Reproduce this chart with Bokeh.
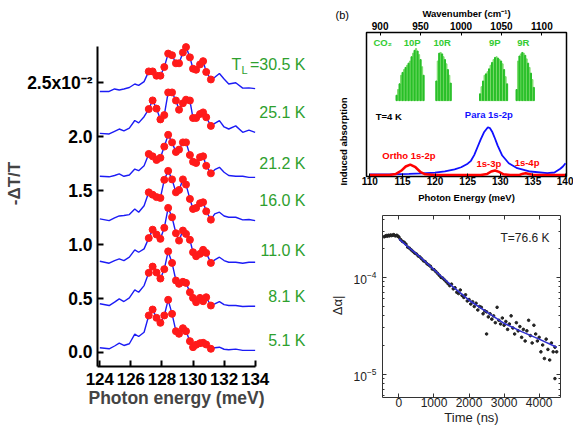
import math
from bokeh.plotting import figure
from bokeh.layouts import row, column
from bokeh.models import (Range1d, LinearAxis, LogAxis, Label, FixedTicker, Title, AllLabels,
                          CustomJSTickFormatter)
from bokeh.embed import file_html
from bokeh.resources import INLINE

FONT = "Liberation Sans"

# ---------------- panel (a): pump-probe spectra ----------------
a_xticks = [124, 126, 128, 130, 132, 134]
a_yticks = [0.0, 0.5, 1.0, 1.5, 2.0, 2.5]
a_ylabels = ["0.0", "0.5", "1.0", "1.5", "2.0", "2.5x10\u207b\u00b2"]
left_x = [124.0, 124.6, 124.95, 125.25, 125.55, 125.9, 126.25, 126.5, 126.85]
dot_x = [127.15, 127.4, 127.65, 127.9, 128.15, 128.4, 128.65, 128.9, 129.1,
         129.35, 129.55, 129.8, 130.0, 130.2, 130.45, 130.65, 130.85, 131.15]
right_x = [131.4, 131.7, 132.0, 132.3, 132.75, 133.2, 133.6, 134.0]

L_30_5 = [2.419, 2.419, 2.442, 2.433, 2.442, 2.456, 2.488, 2.475, 2.51]
D_30_5 = [2.605, 2.605, 2.565, 2.565, 2.645, 2.77, 2.755, 2.68, 2.68, 2.78, 2.83, 2.735, 2.63, 2.62, 2.67, 2.70, 2.60, 2.53]
R_30_5 = [2.55, 2.586, 2.534, 2.488, 2.50, 2.45, 2.452, 2.445]

L_25_1 = [2.031, 2.025, 2.05, 2.071, 2.053, 2.08, 2.15, 2.128, 2.185]
D_25_1 = [2.256, 2.336, 2.26, 2.16, 2.20, 2.41, 2.41, 2.335, 2.25, 2.31, 2.343, 2.335, 2.173, 2.173, 2.21, 2.225, 2.18, 2.10]
R_25_1 = [2.123, 2.148, 2.09, 2.071, 2.10, 2.04, 2.06, 2.04]

L_21_2 = [1.633, 1.628, 1.64, 1.655, 1.633, 1.645, 1.70, 1.685, 1.73]
D_21_2 = [1.84, 1.818, 1.784, 1.804, 1.908, 2.017, 1.947, 1.858, 1.88, 1.947, 1.947, 1.83, 1.768, 1.756, 1.81, 1.818, 1.73, 1.66]
R_21_2 = [1.694, 1.716, 1.67, 1.64, 1.633, 1.633, 1.623, 1.623]

L_16_0 = [1.238, 1.222, 1.247, 1.265, 1.27, 1.278, 1.33, 1.30, 1.36]
D_16_0 = [1.484, 1.462, 1.44, 1.432, 1.60, 1.683, 1.604, 1.484, 1.506, 1.604, 1.556, 1.423, 1.33, 1.34, 1.383, 1.392, 1.308, 1.231]
R_16_0 = [1.284, 1.30, 1.265, 1.253, 1.253, 1.229, 1.232, 1.222]

L_11_0 = [0.845, 0.827, 0.852, 0.867, 0.852, 0.883, 0.951, 0.929, 0.96]
D_11_0 = [1.06, 1.138, 1.093, 1.053, 1.155, 1.34, 1.253, 1.105, 1.037, 1.13, 1.099, 1.044, 0.929, 0.892, 0.914, 0.951, 0.923, 0.83]
R_11_0 = [0.858, 0.883, 0.852, 0.836, 0.836, 0.827, 0.836, 0.836]

L_8_1 = [0.451, 0.435, 0.466, 0.497, 0.472, 0.506, 0.58, 0.558, 0.62]
D_8_1 = [0.738, 0.796, 0.741, 0.685, 0.772, 0.937, 0.83, 0.667, 0.636, 0.655, 0.645, 0.558, 0.506, 0.466, 0.506, 0.475, 0.512, 0.435]
R_8_1 = [0.45, 0.472, 0.444, 0.435, 0.435, 0.426, 0.429, 0.429]

L_5_1 = [0.044, 0.034, 0.06, 0.086, 0.065, 0.081, 0.17, 0.148, 0.188]
D_5_1 = [0.343, 0.398, 0.321, 0.275, 0.343, 0.488, 0.358, 0.197, 0.173, 0.225, 0.197, 0.105, 0.049, 0.071, 0.086, 0.090, 0.074, 0.034]
R_5_1 = [0.044, 0.049, 0.03, 0.025, 0.031, 0.019, 0.019, 0.019]

temp_labels = ["=30.5 K", "25.1 K", "21.2 K", "16.0 K", "11.0 K", "8.1 K", "5.1 K"]
temp_label_y = [302, 254, 203, 166, 116, 70, 26]   # px above frame bottom

traces = [(L_30_5, D_30_5, R_30_5), (L_25_1, D_25_1, R_25_1), (L_21_2, D_21_2, R_21_2),
          (L_16_0, D_16_0, R_16_0), (L_11_0, D_11_0, R_11_0), (L_8_1, D_8_1, R_8_1),
          (L_5_1, D_5_1, R_5_1)]

# ---------------- panel (b): induced absorption ----------------
MEV_PER_CM = 0.12398
b_xticks = [110, 115, 120, 125, 130, 135, 140]
wn_ticks = [900, 950, 1000, 1050, 1100]
b_blue_x = [110, 113, 116, 118, 120, 121.5, 123, 124, 125, 125.5, 126, 126.5, 127, 127.5, 128.1, 128.4,
            128.8, 129.2, 129.6, 130.3, 131.3, 132.6, 134.6, 137.2, 138.3, 139.2, 139.6, 140]
b_blue_y = [0.004, 0.005, 0.008, 0.012, 0.017, 0.026, 0.04, 0.055, 0.08, 0.10, 0.14, 0.195, 0.25, 0.30, 0.335, 0.33,
            0.30, 0.255, 0.207, 0.137, 0.083, 0.048, 0.025, 0.013, 0.018, 0.044, 0.06, 0.083]
b_red_x = [110, 113, 114, 114.8, 115.5, 116.2, 117, 117.8, 118.5, 120, 127, 128, 128.6, 129.2, 129.8,
           130.5, 131.5, 133, 133.5, 133.9, 134.4, 135, 140]
b_red_y = [0, 0.001, 0.008, 0.03, 0.06, 0.074, 0.055, 0.02, 0.005, 0.001, 0.001, 0.008, 0.025, 0.032, 0.022,
           0.005, 0.001, 0.002, 0.01, 0.013, 0.008, 0.002, 0]
co2_base = 0.522
co2_10P_x = [114.1, 114.33, 114.56, 114.79, 115.02, 115.25, 115.48, 115.71, 115.94, 116.17, 116.4, 116.63,
             116.86, 117.09, 117.32, 117.55, 117.78, 118.01, 118.24]
co2_10P_h = [0.56, 0.60, 0.64, 0.70, 0.72, 0.74, 0.755, 0.77, 0.785, 0.80, 0.83, 0.855, 0.875, 0.888, 0.87,
             0.845, 0.81, 0.76, 0.70]
co2_10R_x = [120.2, 120.42, 120.64, 120.86, 121.08, 121.3, 121.52, 121.74, 121.96, 122.18, 122.4]
co2_10R_h = [0.66, 0.80, 0.855, 0.86, 0.85, 0.83, 0.81, 0.78, 0.74, 0.70, 0.645]
co2_9P_x = [126.9, 127.13, 127.36, 127.59, 127.82, 128.05, 128.28, 128.51, 128.74, 128.97, 129.2, 129.43,
            129.66, 129.89, 130.12, 130.35, 130.58, 130.81, 131.04]
co2_9P_h = [0.57, 0.62, 0.66, 0.70, 0.71, 0.725, 0.745, 0.77, 0.79, 0.81, 0.825, 0.83, 0.82, 0.81, 0.80,
            0.78, 0.74, 0.69, 0.64]
co2_9R_x = [132.5, 132.72, 132.94, 133.16, 133.38, 133.6, 133.82, 134.04, 134.26, 134.48, 134.7, 134.92, 135.14]
co2_9R_h = [0.60, 0.80, 0.835, 0.85, 0.86, 0.855, 0.84, 0.815, 0.785, 0.755, 0.715, 0.67, 0.615]
co2_names = ["10P", "10R", "9P", "9R"]
co2_name_x = [116.5, 121.1, 129.17, 133.53]

# ---------------- panel (c): decay ----------------
c_xticks = [0, 1000, 2000, 3000, 4000]
c_yticks = [1e-5, 1e-4]
c_yminor = [6e-6, 7e-6, 8e-6, 9e-6, 2e-5, 3e-5, 4e-5, 5e-5, 6e-5, 7e-5, 8e-5, 9e-5, 2e-4, 3e-4, 4e-4]
fit_t = [0, 250, 500, 750, 1000, 1250, 1500, 1750, 2000, 2500, 3000, 3500, 4000, 4500]
fit_v = [2.5e-4, 2.08e-4, 1.75e-4, 1.45e-4, 1.2e-4, 9.9e-5, 8.2e-5, 6.9e-5, 5.8e-5, 4.4e-5, 3.35e-5,
         2.75e-5, 2.3e-5, 1.9e-5]
pts_t = [-420, -390, -360, -330, -300, -270, -240, -210, -180, -150, -120, -90, -60, -30, 0,
         50, 100, 150, 200, 250, 300, 350, 400, 450, 500, 550, 600, 650, 700, 750, 800, 850, 900, 950,
         1000, 1050, 1100, 1150, 1200, 1250, 1300, 1350, 1400, 1450, 1500, 1550, 1600, 1650, 1700, 1750,
         1800, 1850, 1900, 1950, 2000, 2050, 2100, 2150, 2200, 2250, 2300, 2350, 2400, 2450, 2500, 2500,
         2550, 2600, 2650, 2700, 2750, 2800, 2850, 2900, 2950, 3000, 3050, 3100, 3150, 3200, 3250, 3300,
         3350, 3400, 3450, 3500, 3550, 3600, 3650, 3700, 3750, 3800, 3850, 3900, 3950, 4000, 4050, 4100,
         4150, 4200, 4250, 4300, 4350, 4400, 4450, 4500, 4450]
pts_v = [2.62e-4, 2.66e-4, 2.7e-4, 2.66e-4, 2.72e-4, 2.68e-4, 2.74e-4, 2.7e-4, 2.72e-4, 2.76e-4, 2.7e-4,
         2.68e-4, 2.72e-4, 2.66e-4, 2.6e-4,
         2.45e-4, 2.35e-4, 2.3e-4, 2.2e-4, 2.05e-4, 2.0e-4, 1.92e-4, 1.85e-4, 1.78e-4, 1.74e-4, 1.66e-4,
         1.62e-4, 1.55e-4, 1.48e-4, 1.45e-4, 1.38e-4, 1.34e-4, 1.3e-4, 1.22e-4, 1.2e-4, 1.15e-4, 1.1e-4,
         1.05e-4, 1.0e-4, 9.8e-5, 9.4e-5, 9.0e-5, 8.6e-5, 8.2e-5, 8.5e-5, 7.6e-5, 7.8e-5, 7.0e-5, 6.8e-5,
         7.4e-5, 6.5e-5, 6.2e-5, 6.6e-5, 5.7e-5, 5.9e-5, 5.3e-5, 5.6e-5, 5.0e-5, 5.4e-5, 4.6e-5, 5.0e-5,
         4.9e-5, 4.2e-5, 4.5e-5, 2.6e-5, 4.4e-5, 3.9e-5, 4.2e-5, 3.7e-5, 4.0e-5, 3.4e-5, 4.9e-5, 3.6e-5,
         3.3e-5, 3.8e-5, 3.2e-5, 3.5e-5, 2.9e-5, 3.3e-5, 4.0e-5, 3.0e-5, 2.6e-5, 3.4e-5, 2.8e-5, 3.1e-5,
         2.4e-5, 2.9e-5, 2.2e-5, 2.8e-5, 3.6e-5, 2.5e-5, 2.1e-5, 3.2e-5, 2.6e-5, 2.2e-5, 2.4e-5, 1.7e-5,
         2.0e-5, 1.45e-5, 2.3e-5, 1.8e-5, 1.4e-5, 2.1e-5, 1.7e-5, 1.9e-5, 1.7e-5, 9e-6]


def label(p, text, x, y, size, color="black", style="normal", align="left", baseline="middle",
          angle=0.0, xu="screen", yu="screen"):
    p.add_layout(Label(x=x, y=y, x_units=xu, y_units=yu, text=text, text_font=FONT,
                       text_font_size=size, text_font_style=style, text_color=color,
                       text_align=align, text_baseline=baseline, angle=angle))


# ================= figure (a)  (page x 0..350, frame 97..350 x 0..366) =================
pa = figure(width=350, height=434, x_range=Range1d(123.85, 140.14), y_range=Range1d(-0.13, 3.262),
            output_backend="svg", toolbar_location=None, title=None,
            min_border_left=97, min_border_right=0, min_border_top=0, min_border_bottom=68)
pa.outline_line_color = None
pa.grid.visible = False
for L, D, R in traces:
    pa.line(left_x + dot_x + right_x, L + D + R, color="#1c1cf5", line_width=1.4)
    pa.scatter(dot_x, D, size=7, color="#ff1a1a")

xa = pa.xaxis[0]
xa.ticker = FixedTicker(ticks=a_xticks)
xa.bounds = (123.85, 134.05)
ya = pa.yaxis[0]
ya.ticker = FixedTicker(ticks=a_yticks)
ya.bounds = (-0.13, 2.84)
ya.major_label_overrides = dict(zip(a_yticks, a_ylabels))
for ax in (xa, ya):
    ax.axis_line_width = 2
    ax.major_tick_line_width = 2
    ax.major_tick_in = 6
    ax.major_tick_out = 0
    ax.minor_tick_line_color = None
    ax.major_label_text_font = FONT
    ax.major_label_text_font_style = "bold"
    ax.major_label_text_color = "black"
    ax.major_label_policy = AllLabels()
xa.major_label_text_font_size = "17px"
ya.major_label_text_font_size = "17.5px"
xa.major_label_standoff = 6
ya.major_label_standoff = 5
ya.axis_label = "-\u0394T/T"
ya.axis_label_text_font = FONT
ya.axis_label_text_font_style = "bold"
ya.axis_label_text_font_size = "17px"
ya.axis_label_standoff = 0
pa.add_layout(Title(text="Photon energy (meV)", align="left", offset=-9, standoff=0,
                    vertical_align="top", text_font=FONT, text_font_size="17.5px",
                    text_font_style="bold"), "below")

GREEN = "#2ea02e"
for txt, yy in zip(temp_labels, temp_label_y):
    label(pa, txt, 208, yy, "16px", color=GREEN, align="right")
label(pa, "T", 134, 302, "16px", color=GREEN, align="left")
label(pa, "L", 144, 297, "11px", color=GREEN, align="left")
# texts of the right-hand panels that sit left of their frames
label(pa, "(b)", 238, 352, "11px", align="left")
label(pa, "Induced absorption", 246, 225, "9.5px", style="bold", align="center", angle=math.pi / 2)
label(pa, "\u0394\u03b1|", 240, 61, "13px", color="#222222", align="center", angle=math.pi / 2)

# ================= figure (b)  (page x 350..573, y 0..210) =================
pb = figure(width=223, height=210, x_range=Range1d(109.49, 140.15), y_range=Range1d(-0.01, 1.0),
            output_backend="svg", toolbar_location=None, title=None, y_axis_location=None,
            min_border_left=16, min_border_right=7, min_border_top=32, min_border_bottom=34)
pb.extra_x_ranges = {"wn": Range1d(109.49 / MEV_PER_CM, 140.15 / MEV_PER_CM)}
pb.grid.visible = False
pb.outline_line_color = "black"
pb.outline_line_width = 1.5

DARK, LIGHT = "#27bf27", "#7fdc6f"
for gx, gh in ((co2_10P_x, co2_10P_h), (co2_10R_x, co2_10R_h), (co2_9P_x, co2_9P_h), (co2_9R_x, co2_9R_h)):
    pb.vbar(x=gx[1::2], bottom=co2_base, top=gh[1::2], width=0.17, color=LIGHT)
    pb.vbar(x=gx[0::2], bottom=co2_base, top=gh[0::2], width=0.17, color=DARK)

pb.line(b_blue_x, b_blue_y, color="#1010ff", line_width=1.8)
pb.line(b_red_x, b_red_y, color="#ff0000", line_width=2.5)

bx = pb.xaxis[0]
bx.ticker = FixedTicker(ticks=b_xticks)
top = LinearAxis(x_range_name="wn", ticker=FixedTicker(ticks=wn_ticks))
pb.add_layout(top, "above")
for ax in (bx, top):
    ax.axis_line_color = None
    ax.major_tick_in = 3
    ax.major_tick_out = 0
    ax.minor_tick_line_color = None
    ax.major_label_text_font = FONT
    ax.major_label_text_font_style = "bold"
    ax.major_label_text_font_size = "10px"
    ax.major_label_text_color = "black"
    ax.major_label_standoff = 0
    ax.major_label_policy = AllLabels()
    ax.axis_label_text_font = FONT
    ax.axis_label_text_font_style = "bold"
    ax.axis_label_text_font_size = "9.5px"
    ax.axis_label_text_color = "black"
top.major_label_standoff = 3
top.axis_label = "Wavenumber (cm\u207b\u00b9)"
top.axis_label_standoff = 0
bx.axis_label = "Photon Energy (meV)"
bx.axis_label_standoff = 4

CO2G = "#33cc33"
label(pb, "CO\u2082", 110.55, 0.93, "9.5px", color=CO2G, style="bold", xu="data", yu="data")
for nm, nx in zip(co2_names, co2_name_x):
    label(pb, nm, nx, 0.93, "9.5px", color=CO2G, style="bold", align="center", xu="data", yu="data")
label(pb, "T=4 K", 110.9, 0.41, "9.5px", style="bold", xu="data", yu="data")
label(pb, "Para 1s-2p", 128.25, 0.424, "9.5px", color="#1010ff", style="bold", align="center", xu="data", yu="data")
label(pb, "Ortho 1s-2p", 116.0, 0.137, "9.5px", color="#ff0000", style="bold", align="center", xu="data", yu="data")
label(pb, "1s-3p", 128.25, 0.083, "9.5px", color="#ff0000", style="bold", align="center", xu="data", yu="data")
label(pb, "1s-4p", 134.1, 0.09, "9.5px", color="#ff0000", style="bold", align="center", xu="data", yu="data")

# ================= figure (c)  (page x 350..573, y 210..434) =================
pc = figure(width=223, height=224, x_range=Range1d(-469, 4609), y_range=Range1d(5.74e-6, 4.35e-4),
            y_axis_type="log", output_backend="svg", toolbar_location=None, title=None,
            min_border_left=29, min_border_right=13, min_border_top=5, min_border_bottom=37)
pc.grid.visible = False
pc.outline_line_color = "#333333"
pc.outline_line_width = 1
pc.scatter(pts_t, pts_v, size=2.6, color="#222222")
pc.line(fit_t, fit_v, color="#3030d0", line_width=1.6)

cx = pc.xaxis[0]
cx.ticker = FixedTicker(ticks=c_xticks, minor_ticks=[])
cy = pc.yaxis[0]
cy.ticker = FixedTicker(ticks=c_yticks, minor_ticks=c_yminor)
ctop = LinearAxis(ticker=FixedTicker(ticks=c_xticks, minor_ticks=[]))
cright = LogAxis(ticker=FixedTicker(ticks=c_yticks, minor_ticks=c_yminor))
pc.add_layout(ctop, "above")
pc.add_layout(cright, "right")
for ax in (cx, cy, ctop, cright):
    ax.axis_line_color = None
    ax.major_tick_in = 4
    ax.major_tick_out = 0
    ax.minor_tick_in = 2
    ax.minor_tick_out = 0
    ax.major_tick_line_color = "#333333"
    ax.minor_tick_line_color = "#333333"
    ax.major_label_text_font = FONT
    ax.major_label_text_font_size = "12px"
    ax.major_label_text_color = "#222222"
    ax.major_label_standoff = 0
cy.major_label_standoff = 6
for ax in (ctop, cright):
    ax.formatter = CustomJSTickFormatter(code="return ''")
    ax.major_label_text_font_size = "1px"
cx.axis_label = "Time (ns)"
cx.axis_label_text_font = FONT
cx.axis_label_text_font_style = "normal"
cx.axis_label_text_font_size = "13px"
cx.axis_label_text_color = "#222222"
cx.axis_label_standoff = 0

label(pc, "T=76.6 K", 118, 160, "12px", color="#222222", align="left")

# pc sits in its own row so that its borders are not matched to those of pb
layout = row(pa, column(pb, row(pc)))
open("out.html", "w").write(file_html(layout, INLINE, title="chart"))
